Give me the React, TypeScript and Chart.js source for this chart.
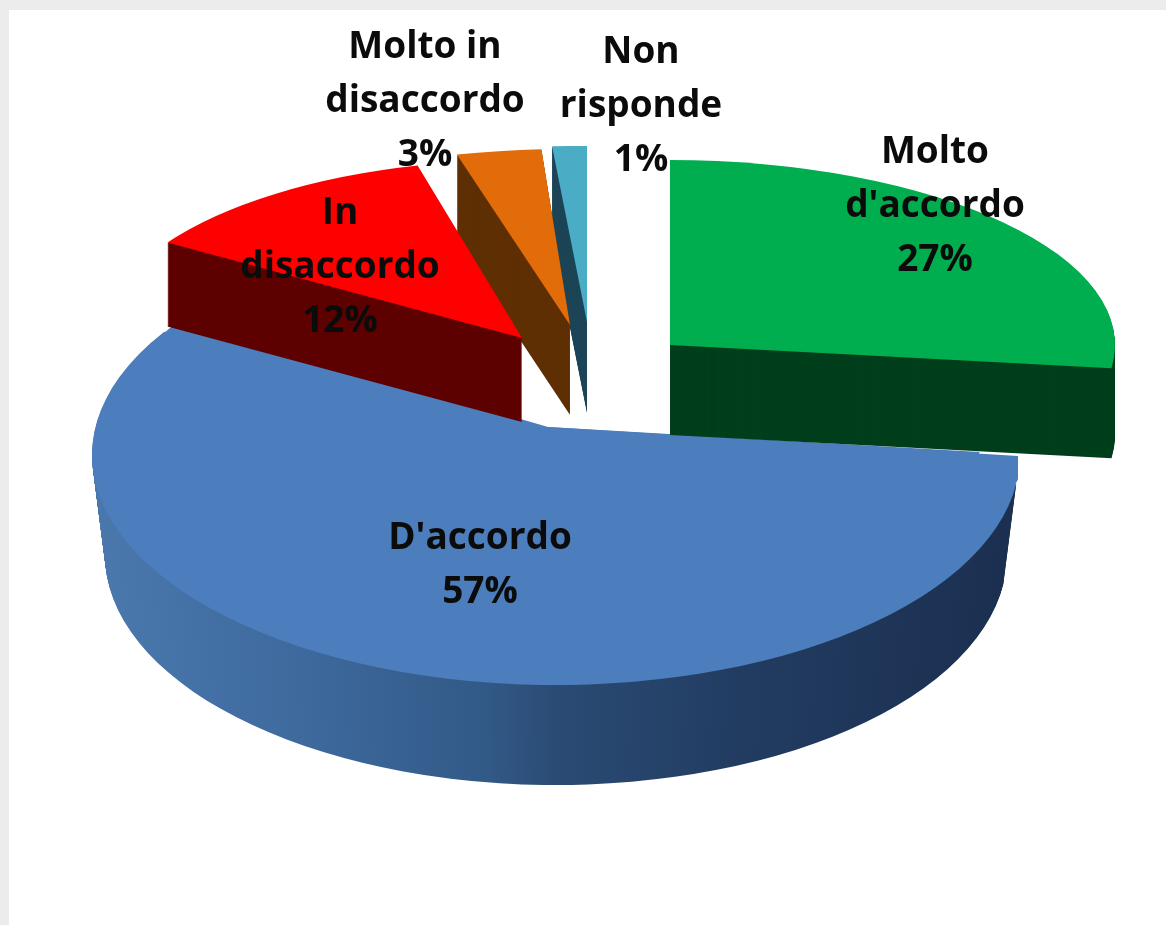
import React, { useEffect, useRef } from "react";
import { Chart, registerables } from "chart.js";

Chart.register(...registerables);

const categories = ["Molto d'accordo", "D'accordo", "In disaccordo", "Molto in disaccordo", "Non risponde"];
const percentages = [27, 57, 12, 3, 1];
const labelLines = [["Molto", "d'accordo"], ["D'accordo"], ["In", "disaccordo"], ["Molto in", "disaccordo"], ["Non", "risponde"]];

const topColors = ["#00ae4f", "#4c7dbc", "#ff0000", "#e26b0a", "#4bacc6"];
const wallColors = ["#003f1c", "", "#5e0000", "#5f2f04", "#1d4657"];

// Layout of each exploded slice, in page pixels (apex, ellipse radii, wall depth, shrink of the lower face)
const sliceLayout = [
  { x: 670, y: 345, rx: 445, ry: 185, depth: 90, wallX: 1 },
  { x: 556, y: 455, rx: 464, ry: 230, depth: 100, wallX: 0.972 },
  { x: 522, y: 338, rx: 420, ry: 178, depth: 84, wallX: 1 },
  { x: 570, y: 325, rx: 455, ry: 176, depth: 90, wallX: 1 },
  { x: 587, y: 322, rx: 556, ry: 176, depth: 91, wallX: 1 },
];
const innerLeft = { x: 548, y: 427, rx: 435, ry: 200 };
const innerRight = { x: 548, y: 427, rx: 482, ry: 235, clipFrom: 548, clipTo: 1018 };
const drawOrder = [4, 3, 1, 2, 0];
const labelAnchors = [
  { x: 935, y: 152 }, { x: 480, y: 538 }, { x: 340, y: 213 }, { x: 425, y: 47 }, { x: 641, y: 52 },
];
const LINE_HEIGHT = 54;

const pie3d = {
  id: "pie3d",
  beforeDraw(chart: any) {
    const { ctx, width, height } = chart;
    ctx.save();
    ctx.fillStyle = "#ececec";
    ctx.fillRect(0, 0, width, height);
    ctx.fillStyle = "#ffffff";
    ctx.fillRect(9, 10, width - 9, height - 10);
    ctx.restore();
  },
  beforeDatasetsDraw(chart: any) {
    const { ctx } = chart;
    const arcs = chart.getDatasetMeta(0).data;
    const place = (arc: any, p: any, color: any, yShift = 0, sx = 1) => {
      const R = arc.outerRadius;
      const base = arc.options;
      arc.options = { ...base, backgroundColor: color, borderWidth: 0 };
      ctx.save();
      ctx.translate(p.x, p.y + yShift);
      ctx.scale((p.rx * sx) / R, p.ry / R);
      ctx.translate(-arc.x, -arc.y);
      arc.draw(ctx);
      ctx.restore();
      arc.options = base;
    };
    for (const i of drawOrder) {
      const arc = arcs[i];
      const p = sliceLayout[i];
      let wall: any = wallColors[i];
      if (i === 1) {
        const R = arc.outerRadius;
        const g = ctx.createLinearGradient(arc.x - R, 0, arc.x + R, 0);
        g.addColorStop(0, "#4a78ad");
        g.addColorStop(0.2, "#3f6b9f");
        g.addColorStop(0.42, "#325a88");
        g.addColorStop(0.5, "#2a4b74");
        g.addColorStop(0.7, "#223c61");
        g.addColorStop(1, "#1b2f50");
        wall = g;
      }
      for (let d = p.depth; d > 0; d -= 1) {
        place(arc, p, wall, d, 1 + (d / p.depth) * (p.wallX - 1));
      }
      place(arc, p, topColors[i]);
      if (i === 1) {
        place(arc, innerLeft, topColors[i]);
        ctx.save();
        ctx.beginPath();
        ctx.rect(innerRight.clipFrom, 0, innerRight.clipTo - innerRight.clipFrom, chart.height);
        ctx.clip();
        place(arc, innerRight, topColors[i]);
        ctx.restore();
      }
    }
    return false;
  },
  afterDraw(chart: any) {
    const { ctx } = chart;
    ctx.save();
    ctx.fillStyle = "#0b0b0b";
    ctx.textAlign = "center";
    ctx.textBaseline = "middle";
    ctx.font = "bold 37px 'Open Sans'";
    categories.forEach((_, i) => {
      const lines = [...labelLines[i], `${percentages[i]}%`];
      lines.forEach((line, k) => {
        ctx.fillText(line, labelAnchors[i].x, labelAnchors[i].y + k * LINE_HEIGHT);
      });
    });
    ctx.restore();
  },
};

export default function App() {
  const ref = useRef<HTMLCanvasElement>(null);
  useEffect(() => {
    const chart = new Chart(ref.current!, {
      type: "pie",
      data: {
        labels: categories,
        datasets: [{ data: percentages, backgroundColor: topColors, borderWidth: 0 }],
      },
      options: {
        animation: false,
        responsive: false,
        plugins: { legend: { display: false }, tooltip: { enabled: false } },
      },
      plugins: [pie3d],
    } as any);
    return () => chart.destroy();
  }, []);
  return (
    <canvas
      ref={ref}
      width={1166}
      height={925}
      style={{ position: "fixed", left: 0, top: 0, width: 1166, height: 925, filter: "blur(0.7px)" }}
    />
  );
}
